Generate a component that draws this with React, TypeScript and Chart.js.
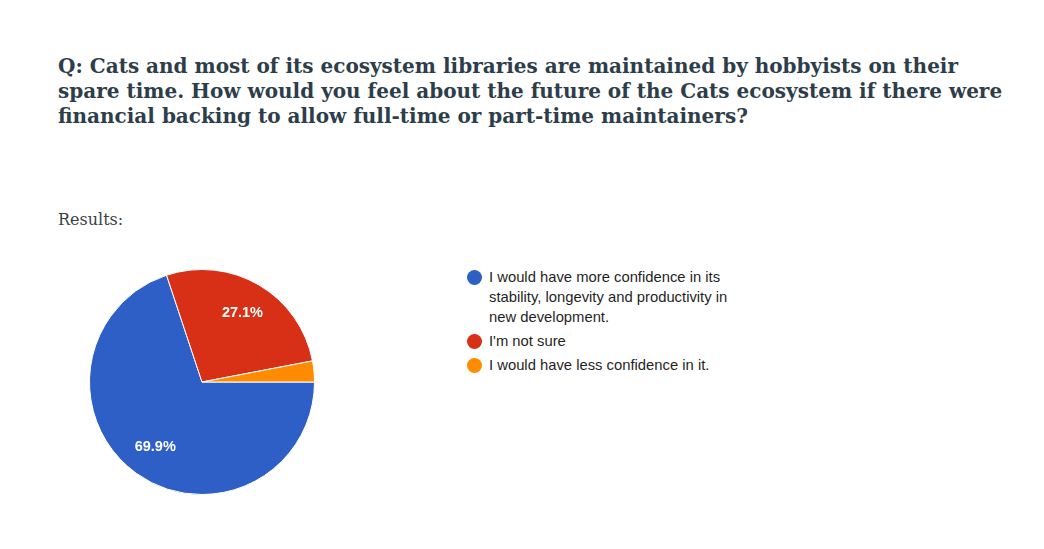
import React, { useEffect, useRef } from 'react';
import { Chart, registerables, Plugin } from 'chart.js';

Chart.register(...registerables);

const titleLines = [
  'Q: Cats and most of its ecosystem libraries are maintained by hobbyists on their',
  'spare time. How would you feel about the future of the Cats ecosystem if there were',
  'financial backing to allow full-time or part-time maintainers?',
];

const answers = [
  'I would have more confidence in its stability, longevity and productivity in new development.',
  "I'm not sure",
  'I would have less confidence in it.',
];
const shares = [69.9, 27.1, 3.0];
const sliceColors = ['#2e5fc7', '#d73016', '#ff8c00'];

// percentage labels inside the slices, like google forms does
const sliceLabels: Plugin<'pie'> = {
  id: 'sliceLabels',
  afterDatasetsDraw(chart) {
    const ctx = chart.ctx;
    const meta = chart.getDatasetMeta(0);
    const values = chart.data.datasets[0].data as number[];
    const total = values.reduce((a, b) => a + b, 0);
    ctx.save();
    ctx.fillStyle = '#ffffff';
    ctx.font = 'bold 14.5px "Liberation Sans", Arial, sans-serif';
    ctx.textAlign = 'center';
    ctx.textBaseline = 'middle';
    meta.data.forEach((arc: any, i) => {
      const pct = (values[i] / total) * 100;
      if (pct < 5) return;
      const { x, y, startAngle, endAngle, outerRadius } = arc.getProps(
        ['x', 'y', 'startAngle', 'endAngle', 'outerRadius'],
        true
      );
      const mid = (startAngle + endAngle) / 2;
      const r = outerRadius * 0.71;
      ctx.fillText(pct.toFixed(1) + '%', x + Math.cos(mid) * r, y + Math.sin(mid) * r);
    });
    ctx.restore();
  },
};

const App: React.FC = () => {
  const canvasRef = useRef<HTMLCanvasElement>(null);
  const chartRef = useRef<Chart<'pie'>>();

  useEffect(() => {
    if (!canvasRef.current) return;
    chartRef.current = new Chart(canvasRef.current, {
      type: 'pie',
      data: {
        labels: answers,
        datasets: [
          {
            data: shares,
            backgroundColor: sliceColors,
            borderColor: '#ffffff',
            borderWidth: 1,
          },
        ],
      },
      options: {
        responsive: false,
        animation: false,
        rotation: 90,
        layout: { padding: 0 },
        plugins: {
          legend: { display: false },
          tooltip: { enabled: false },
        },
      },
      plugins: [sliceLabels],
    });
    return () => {
      chartRef.current?.destroy();
    };
  }, []);

  return (
    <div
      style={{
        position: 'fixed',
        left: 0,
        top: 0,
        width: 1044,
        height: 549,
        background: '#ffffff',
        overflow: 'hidden',
      }}
    >
      <div
        style={{
          position: 'absolute',
          left: 58,
          top: 54,
          fontFamily: '"DejaVu Serif", serif',
          fontWeight: 'bold',
          fontSize: 20,
          lineHeight: '25px',
          color: '#2d3e4a',
          whiteSpace: 'nowrap',
        }}
      >
        {titleLines.map((l, i) => (
          <div key={i}>{l}</div>
        ))}
      </div>
      <div
        style={{
          position: 'absolute',
          left: 58,
          top: 210,
          fontFamily: '"DejaVu Serif", serif',
          fontSize: 16,
          color: '#3a4248',
        }}
      >
        Results:
      </div>
      <canvas
        ref={canvasRef}
        width={226}
        height={226}
        style={{ position: 'absolute', left: 89, top: 269, width: 226, height: 226 }}
      />
      <div
        style={{
          position: 'absolute',
          left: 467,
          top: 267,
          fontFamily: '"Liberation Sans", Arial, sans-serif',
          fontSize: 14.8,
          lineHeight: '20px',
          color: '#1f1f1f',
        }}
      >
        {answers.map((a, i) => (
          <div key={i} style={{ display: 'flex', alignItems: 'flex-start', marginBottom: 4 }}>
            <span
              style={{
                width: 15,
                height: 15,
                borderRadius: 8,
                background: sliceColors[i],
                marginTop: 3,
                marginRight: 7,
                flex: 'none',
              }}
            />
            <span style={{ width: 255 }}>{a}</span>
          </div>
        ))}
      </div>
    </div>
  );
};

export default App;
